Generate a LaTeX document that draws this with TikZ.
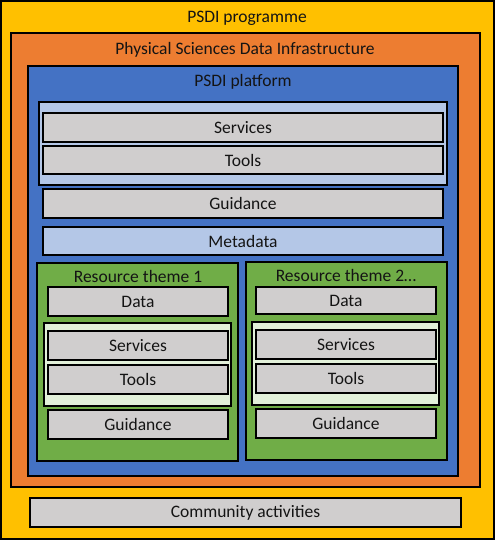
\documentclass[tikz,border=0pt]{standalone}
\usepackage{fontspec}
\setmainfont{Carlito}
\definecolor{cyellow}{HTML}{FFC000}
\definecolor{corange}{HTML}{ED7D31}
\definecolor{cblue}{HTML}{4472C4}
\definecolor{clblue}{HTML}{B4C7E7}
\definecolor{cgray}{HTML}{D0CECE}
\definecolor{cgreen}{HTML}{70AD47}
\definecolor{clgreen}{HTML}{E2F0D9}
\definecolor{ctext}{HTML}{141414}
\newcommand\mybox[7]{\node[#6, minimum width={(#4-#2)*1pt}, minimum height={(#5-#3)*1pt}] (#1) at ({(#2+#4)/2},{(#3+#5)/2}) {#7};}
\begin{document}
\begin{tikzpicture}[x=1pt,y=-1pt,
  frame/.style={draw=black, line width=1.4pt, inner sep=0pt, outer sep=0pt, text=ctext, font=\fontsize{17.5}{20}\selectfont},
  ybox/.style={frame, fill=cyellow},
  obox/.style={frame, fill=corange},
  bbox/.style={frame, fill=cblue},
  lbbox/.style={frame, fill=clblue},
  gbox/.style={frame, fill=cgray},
  grbox/.style={frame, fill=cgreen},
  lgbox/.style={frame, fill=clgreen},
  title/.style={font=\fontsize{17.5}{20}\selectfont, text=ctext, inner sep=0pt, anchor=base}]
\useasboundingbox (0,0) rectangle (495,541);
\mybox{prog}{1}{1}{494}{539}{ybox}{}
\node[title] (progt) at (247,22.5) {PSDI programme};
\mybox{psdi}{11}{33}{480}{487}{obox}{}
\node[title] (psdit) at (245,54) {Physical Sciences Data Infrastructure};
\mybox{plat}{28}{66}{458}{476}{bbox}{}
\node[title] (platt) at (243,86.5) {PSDI platform};
\mybox{stc}{39}{102}{447}{185}{lbbox}{}
\mybox{serv}{43}{113}{443}{142}{gbox}{Services}
\mybox{tools}{43}{146}{443}{174}{gbox}{Tools}
\mybox{guid}{43}{189}{443}{218}{gbox}{Guidance}
\mybox{meta}{43}{227}{443}{255}{lbbox}{Metadata}
% theme 1
\mybox{th1}{37}{263}{238}{461}{grbox}{}
\node[title] (th1t) at (138,282.5) {Resource theme 1};
\mybox{d1}{48}{287}{228}{316}{gbox}{Data}
\mybox{c1}{44}{323}{231}{406}{lgbox}{}
\mybox{s1}{48}{331}{228}{360}{gbox}{Services}
\mybox{t1}{48}{365}{228}{394}{gbox}{Tools}
\mybox{g1}{48}{410}{228}{439}{gbox}{Guidance}
% theme 2
\mybox{th2}{246}{262}{447}{460}{grbox}{}
\node[title] (th2t) at (346,281.5) {Resource theme 2…};
\mybox{d2}{256}{287}{436}{314}{gbox}{Data}
\mybox{c2}{252}{322}{439}{405}{lgbox}{}
\mybox{s2}{256}{330}{436}{359}{gbox}{Services}
\mybox{t2}{256}{364}{436}{393}{gbox}{Tools}
\mybox{g2}{256}{409}{436}{438}{gbox}{Guidance}
% community
\mybox{comm}{30}{498}{461}{527}{gbox}{Community activities}
\end{tikzpicture}
\end{document}
